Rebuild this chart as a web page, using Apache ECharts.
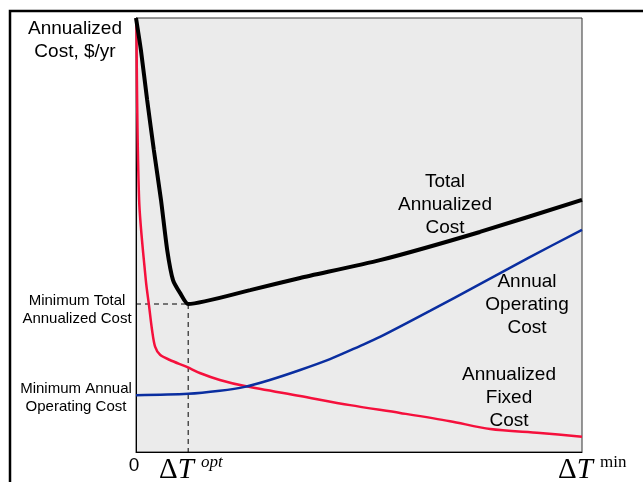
<!DOCTYPE html>
<html><head><meta charset="utf-8">
<script src="https://cdn.jsdelivr.net/npm/echarts@6/dist/echarts.min.js"></script>
<style>html,body{margin:0;padding:0;background:#fff}#c{width:643px;height:482px}</style>
</head><body><div id="c"></div>
<script>
// x: approach temperature (0 = left edge, 100 = ΔTmin end), y: annualized cost (relative)
const totalX = [0, 1.1, 2.5, 4.0, 5.6, 7.0, 8.3, 9.9, 11.7, 25.6, 36.8, 54.7, 77.1, 100];
const totalY = [100, 92.6, 81.1, 69.6, 58.1, 46.5, 39.6, 36.6, 34.1, 37.3, 40.1, 44.2, 50.7, 58.1];
const fixedX = [0.1, 0.7, 2.2, 2.9, 3.6, 4.3, 5.4, 7.6, 11.4, 14.3, 18.8, 24.4, 36.8, 48.0, 59.2, 70.4, 79.4, 90.6, 100];
const fixedY = [100, 58.1, 39.6, 33.9, 28.1, 24.2, 22.4, 21.2, 19.6, 18.2, 16.6, 15.2, 12.9, 10.8, 9.0, 7.1, 5.3, 4.4, 3.5];
const operX = [0, 11.7, 18.8, 24.4, 30.0, 36.8, 43.5, 50.2, 54.7, 65.9, 77.1, 88.3, 100];
const operY = [13.1, 13.4, 14.1, 15.0, 16.6, 18.9, 21.4, 24.4, 26.5, 32.5, 38.7, 44.9, 51.2];
const optX = 11.7;
const optY = 34.1;

const zip = (a, b) => a.map((v, i) => [v, b[i]]);
const chart = echarts.init(document.getElementById('c'));
const sans = '"Liberation Sans", Arial, sans-serif';
const serif = '"Liberation Serif", "Times New Roman", serif';
const txt = (x, y, text, size, align) => ({
  type: 'text', x: x, y: y, z: 10,
  style: { text: text, fontSize: size, fontFamily: sans, fill: '#000', align: align || 'center', verticalAlign: 'middle', lineHeight: size * 1.2 }
});
chart.setOption({
  animation: false,
  backgroundColor: '#fff',
  grid: { left: 136, top: 18, right: 61, bottom: 30, show: true, backgroundColor: '#ebebeb', borderColor: '#333', borderWidth: 1 },
  xAxis: { type: 'value', min: 0, max: 100, axisLine: { show: true, lineStyle: { color: '#000', width: 1 } }, axisTick: { show: false }, axisLabel: { show: false }, splitLine: { show: false } },
  yAxis: { type: 'value', min: 0, max: 100, axisLine: { show: true, lineStyle: { color: '#000', width: 1 } }, axisTick: { show: false }, axisLabel: { show: false }, splitLine: { show: false } },
  series: [
    { type: 'line', data: [[0, optY], [optX, optY]], symbol: 'none', lineStyle: { color: '#000', width: 1, type: [5, 4] } },
    { type: 'line', data: [[optX, optY], [optX, 0]], symbol: 'none', lineStyle: { color: '#000', width: 1, type: [5, 4] } },
    { type: 'line', data: zip(fixedX, fixedY), symbol: 'none', smooth: 0.3, lineStyle: { color: '#f5103c', width: 2.5 } },
    { type: 'line', data: zip(operX, operY), symbol: 'none', smooth: 0.3, lineStyle: { color: '#0a2ea0', width: 2.5 } },
    { type: 'line', data: zip(totalX, totalY), symbol: 'none', smooth: 0.2, lineStyle: { color: '#000', width: 4 } }
  ],
  graphic: [
    { type: 'rect', shape: { x: 10, y: 11, width: 700, height: 600 }, style: { fill: 'none', stroke: '#000', lineWidth: 2.5 }, z: 0 },
    txt(75, 40, 'Annualized\nCost, $/yr', 19),
    txt(77, 310, 'Minimum Total\nAnnualized Cost', 15),
    txt(76, 398, 'Minimum Annual\nOperating Cost', 15),
    txt(445, 205, 'Total\nAnnualized\nCost', 19),
    txt(527, 305, 'Annual\nOperating\nCost', 19),
    txt(509, 398, 'Annualized\nFixed\nCost', 19),
    txt(134, 466, '0', 19),
    { type: 'text', x: 159, y: 454, z: 10, style: { text: '{d|Δ}{t|T}{s| opt}', fontFamily: serif, rich: {
      d: { fontSize: 29, fontFamily: serif, fill: '#000' },
      t: { fontSize: 29, fontFamily: serif, fontStyle: 'italic', fill: '#000', padding: [0, 3, 0, 0] },
      s: { fontSize: 17, fontFamily: serif, fontStyle: 'italic', fill: '#000', verticalAlign: 'top', padding: [0, 0, 16, 0] } } } },
    { type: 'text', x: 558, y: 454, z: 10, style: { text: '{d|Δ}{t|T}{s| min}', fontFamily: serif, rich: {
      d: { fontSize: 29, fontFamily: serif, fill: '#000' },
      t: { fontSize: 29, fontFamily: serif, fontStyle: 'italic', fill: '#000', padding: [0, 3, 0, 0] },
      s: { fontSize: 17, fontFamily: serif, fill: '#000', verticalAlign: 'top', padding: [0, 0, 16, 0] } } } }
  ]
});
</script></body></html>
